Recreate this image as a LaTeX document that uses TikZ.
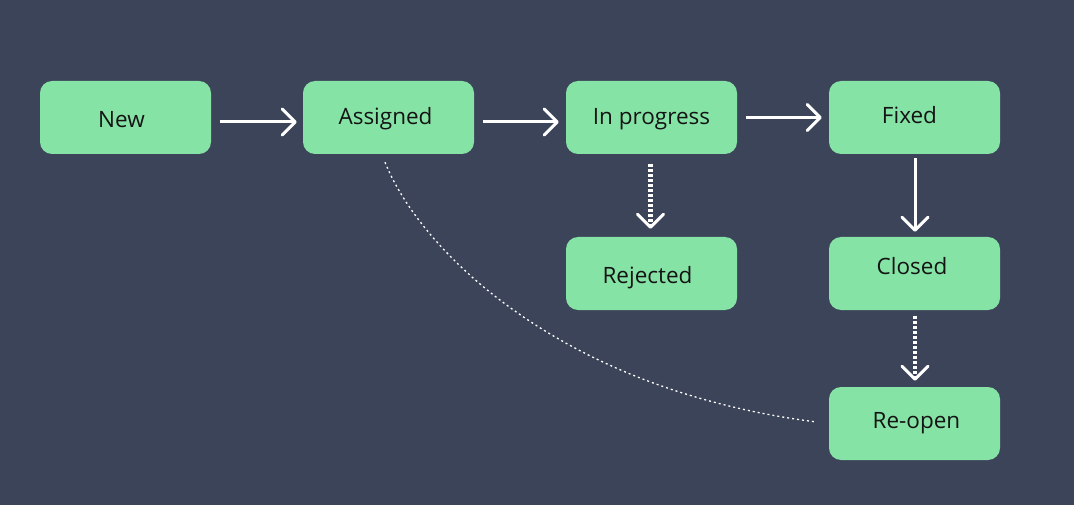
\documentclass[tikz,border=0pt]{standalone}
\usepackage{fontspec}
\setmainfont{Open Sans}
\usetikzlibrary{arrows.meta}

\definecolor{slate}{HTML}{3C4459}
\definecolor{mint}{HTML}{86E3A6}
\definecolor{ink}{HTML}{141414}

\tikzset{
  statebox/.style={fill=mint, rounded corners=12pt, minimum width=171pt,
    minimum height=73pt, inner sep=0pt},
  statelabel/.style={font=\fontsize{22.5}{26}\selectfont, text=ink,
    text height=16pt, text depth=0pt, inner sep=0pt},
  flow/.style={draw=white, line width=3pt,
    -{Straight Barb[length=13pt,width=26pt,line width=3pt,round]}},
  maybe/.style={flow, line width=4.5pt, dash pattern=on 3pt off 2pt},
  reopenpath/.style={draw=white, line width=1.3pt, dash pattern=on 2pt off 3pt},
}

\begin{document}
\begin{tikzpicture}[x=1pt, y=-1pt]

\fill[slate] (0,0) rectangle (1074,505);

\foreach \n/\x/\y/\dx/\dy/\t in%
    {new/125.5/117.5/-4pt/-2pt/New,
     assigned/388.5/117.5/-3pt/0.5pt/Assigned,
     progress/651.5/117.5/0pt/1pt/In progress,
     fixed/914.5/117.5/-5pt/2pt/Fixed,
     rejected/651.5/273.5/-4pt/-2pt/Rejected,
     closed/914.5/273.5/-2.5pt/7pt/Closed,
     reopen/914.5/423.5/2pt/3pt/Re-open} {
  \node[statebox, label={[statelabel, xshift=\dx, yshift=\dy]center:\t}] (\n) at (\x, \y) {};
}

\draw[flow] ([xshift=9pt, yshift=-4.5pt]new.east) -- ([xshift=-6pt, yshift=-4.5pt]assigned.west);
\draw[flow] ([xshift=9pt, yshift=-4.5pt]assigned.east) -- ([xshift=-7pt, yshift=-4.5pt]progress.west);
\draw[flow] ([xshift=9pt]progress.east) -- ([xshift=-7pt]fixed.west);
\draw[flow] ([xshift=0.5pt, yshift=-4pt]fixed.south) -- ([xshift=0.5pt, yshift=5pt]closed.north);
\draw[maybe] ([xshift=-1pt, yshift=-10pt]progress.south) -- ([xshift=-1pt, yshift=8pt]rejected.north);
\draw[maybe] ([xshift=0.5pt, yshift=-6pt]closed.south) -- ([xshift=0.5pt, yshift=6pt]reopen.north);

% back from re-open to assigned
\draw[reopenpath] ([xshift=-3.5pt, yshift=-8pt]assigned.south)
  .. controls (420,250) and (560,390) .. ([xshift=-12pt, yshift=1.5pt]reopen.west);

\end{tikzpicture}
\end{document}
